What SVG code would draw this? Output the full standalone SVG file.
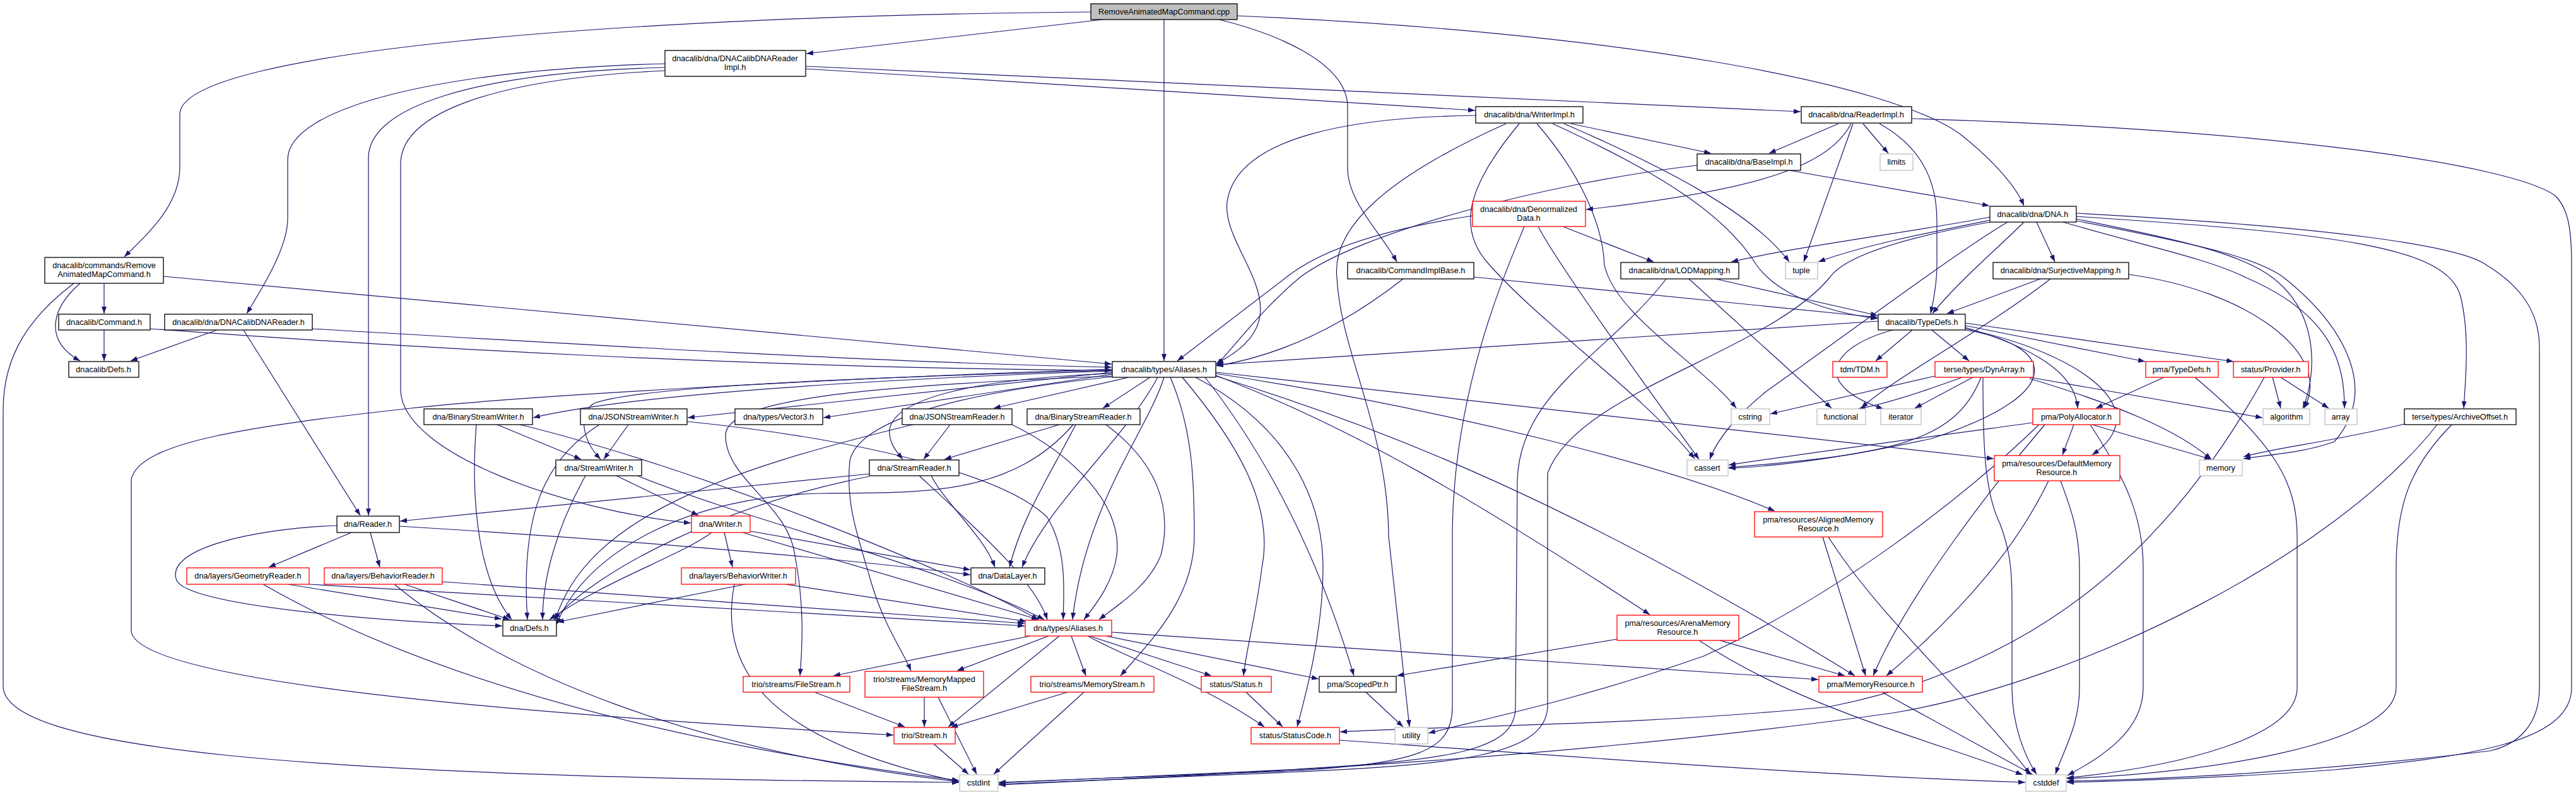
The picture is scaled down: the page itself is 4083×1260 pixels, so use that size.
<svg xmlns="http://www.w3.org/2000/svg" width="4083" height="1260" viewBox="0 0 4083 1260">
<defs>
<marker id="a" markerUnits="userSpaceOnUse" markerWidth="11" markerHeight="8" viewBox="0 0 11 8" refX="11" refY="4" orient="auto"><path d="M0,0 L11,4 L0,8 z" fill="#191970"/></marker>
<style>
.n rect{fill:#fff;stroke:#000;stroke-width:1.3}
.n.r rect{stroke:#ff0000}
.n.g rect{stroke:#bfbfbf}
.n.c rect{fill:#bfbfbf}
text{font-family:"Liberation Sans",Arial,sans-serif;font-size:12.7px;text-anchor:middle;fill:#000}
#edges path{fill:none;stroke:#191970;stroke-width:1.2;marker-end:url(#a)}
</style>
</defs>
<rect width="4083" height="1260" fill="#fff"/>
<g id="edges">
<path d="M1729,19 C1000,25 290,80 285,180 L285,265 C285,325 235,370 197,407"/>
<path d="M1748,31 L1278,85"/>
<path d="M1845,31 L1845,572"/>
<path d="M1932,31 C2010,50 2136,95 2136,170 L2136,267 C2136,320 2190,370 2214,415"/>
<path d="M1961,25 C2550,50 3000,130 3110,215 C3160,255 3195,295 3208,326"/>
<path d="M165,449 L165,497"/>
<path d="M127,449 C80,490 70,540 127,572"/>
<path d="M117,449 C50,500 5,560 5,650 L5,1087 C5,1185 450,1232 1520,1240"/>
<path d="M259,438 L1762,577"/>
<path d="M1277,109 L2338,175"/>
<path d="M1277,105 L2854,177"/>
<path d="M1054,101 C700,110 456,170 456,253 L456,347 C456,390 420,450 391,497"/>
<path d="M1054,107 C750,115 584,170 584,250 L584,817"/>
<path d="M1054,112 C780,125 635,180 635,260 L635,620 C640,720 900,810 1095,829"/>
<path d="M165,523 L165,572"/>
<path d="M238,521 C600,548 1200,584 1762,587"/>
<path d="M344,523 L207,572"/>
<path d="M386,523 L571,817"/>
<path d="M495,521 C900,545 1400,575 1762,582"/>
<path d="M2339,183 C2150,185 1960,215 1945,320 C1935,400 2080,500 1928,576"/>
<path d="M2387,196 C2200,280 2110,360 2119,440 C2125,560 2200,680 2201,850 L2234,1152"/>
<path d="M2408,196 C2330,290 2305,360 2361,420 C2450,520 2600,620 2686,727"/>
<path d="M2436,196 C2500,270 2540,350 2543,420 C2560,500 2700,580 2752,647"/>
<path d="M2461,196 C2600,260 2730,330 2784,420 C2820,470 2900,495 2976,505"/>
<path d="M2479,196 C2650,270 2780,340 2836,415"/>
<path d="M2490,196 L2712,243"/>
<path d="M2914,196 L2804,243"/>
<path d="M2953,196 L2993,243"/>
<path d="M2934,196 C2900,260 2800,300 2514,332"/>
<path d="M2937,196 L2859,415"/>
<path d="M2979,196 C3040,230 3070,280 3070,350 L3070,420 C3070,450 3065,475 3060,497"/>
<path d="M3030,188 C3600,205 3980,260 4050,310 C4070,330 4076,360 4076,420 L4076,1090 C4076,1180 3900,1200 3700,1220 C3500,1235 3350,1238 3276,1240"/>
<path d="M2836,270 L3153,326"/>
<path d="M2690,262 C2450,290 2150,370 2060,440 C2000,490 1960,545 1928,579"/>
<path d="M2477,359 L2621,415"/>
<path d="M2416,359 C2400,400 2305,600 2302,840 L2302,1123 C2300,1190 2250,1210 2042,1222 C1800,1232 1650,1238 1583,1240"/>
<path d="M2438,359 C2470,420 2600,600 2693,728"/>
<path d="M2334,342 C2180,365 2090,400 2042,437 L1866,572"/>
<path d="M2224,442 C2150,500 2050,560 1928,580"/>
<path d="M2336,439 L2976,503"/>
<path d="M2719,442 L2976,500"/>
<path d="M2677,442 L2903,647"/>
<path d="M2641,442 C2550,560 2410,620 2405,760 L2402,1123 C2400,1190 2300,1205 2042,1220 C1800,1232 1650,1238 1583,1241"/>
<path d="M3228,352 L3257,415"/>
<path d="M3208,352 C3170,390 3100,450 3063,497"/>
<path d="M3154,344 C3050,365 2850,390 2744,415"/>
<path d="M3154,349 C3050,370 2950,390 2882,415"/>
<path d="M3182,352 C3100,400 2900,550 2800,620 C2750,660 2720,700 2710,728"/>
<path d="M3154,352 C3000,380 2920,410 2900,440 C2800,560 2500,620 2453,750 L2453,1120 C2450,1200 2300,1212 2042,1224 C1800,1234 1650,1240 1583,1243"/>
<path d="M3291,343 C3700,370 3880,390 3900,470 C3915,530 3908,600 3905,647"/>
<path d="M3291,338 C3700,360 3900,390 3941,420 C3990,450 4025,490 4025,550 L4025,1090 C4025,1150 3990,1180 3947,1190 C3700,1220 3450,1235 3276,1238"/>
<path d="M3291,347 C3450,380 3550,400 3602,440 C3680,500 3670,600 3650,647"/>
<path d="M3270,352 C3400,390 3500,410 3560,440 C3700,500 3716,580 3716,647"/>
<path d="M3291,350 C3500,390 3580,410 3620,440 C3720,520 3770,620 3700,700 C3650,718 3600,720 3556,727"/>
<path d="M3234,442 L3086,497"/>
<path d="M3250,442 C3150,520 3000,600 2950,647"/>
<path d="M3374,435 C3560,460 3700,560 3652,647"/>
<path d="M2977,509 L1928,578"/>
<path d="M3031,523 L2973,572"/>
<path d="M3062,523 L3121,572"/>
<path d="M3115,516 L3400,573"/>
<path d="M3115,512 L3540,573"/>
<path d="M3115,519 C3220,550 3290,590 3293,647"/>
<path d="M3115,521 C3300,560 3420,650 3316,721"/>
<path d="M3115,523 C3250,545 3290,620 3062,695 C2900,730 2800,740 2740,742"/>
<path d="M3000,523 C2900,550 2870,610 2985,648"/>
<path d="M1763,585 C1300,600 800,630 651,647 C400,675 220,700 208,760 L208,1000 C215,1080 800,1130 1416,1165"/>
<path d="M1763,587 C1300,600 1000,615 940,640 C915,660 925,700 952,728"/>
<path d="M1763,588 C1400,600 1000,625 845,662"/>
<path d="M1763,590 L1090,662"/>
<path d="M1763,593 L1305,662"/>
<path d="M1789,598 L1575,647"/>
<path d="M1823,598 L1748,647"/>
<path d="M1763,592 C1550,600 1420,630 1410,680 C1408,700 1420,715 1431,728"/>
<path d="M1763,596 C1350,612 1150,635 1150,690 C1150,760 1250,800 1260,880 C1275,960 1272,1020 1268,1071"/>
<path d="M1763,597 C1500,625 1360,670 1347,730 C1340,800 1360,850 1380,920 C1400,990 1430,1030 1444,1063"/>
<path d="M1845,598 C1820,680 1720,800 1700,982"/>
<path d="M1835,598 C1780,700 1660,800 1620,899"/>
<path d="M1855,598 C1890,680 1893,760 1893,850 C1893,950 1820,1020 1776,1071"/>
<path d="M1874,598 C1960,700 2020,800 2000,900 C1990,980 1975,1030 1971,1071"/>
<path d="M1895,598 C2050,680 2097,800 2097,900 C2097,1000 2070,1100 2056,1152"/>
<path d="M1910,598 C1990,700 2080,850 2146,1071"/>
<path d="M1927,590 L3160,727"/>
<path d="M1927,592 C2300,650 2650,740 2813,810"/>
<path d="M1927,595 C2150,680 2350,800 2615,974"/>
<path d="M1927,596 C2200,680 2500,800 2940,1071"/>
<path d="M557,844 L426,899"/>
<path d="M587,844 L602,899"/>
<path d="M534,833 C400,838 260,870 280,920 C300,960 600,985 796,992"/>
<path d="M633,834 C900,850 1300,880 1538,911"/>
<path d="M456,926 L795,981"/>
<path d="M417,926 C650,1060 1000,1170 1520,1237"/>
<path d="M490,926 L1624,992"/>
<path d="M641,926 L808,982"/>
<path d="M625,926 C800,1070 1100,1190 1520,1239"/>
<path d="M701,922 L1624,988"/>
<path d="M1148,844 L1161,899"/>
<path d="M1190,842 L1538,903"/>
<path d="M1128,844 C1080,880 960,920 871,982"/>
<path d="M1177,844 L1646,982"/>
<path d="M1181,926 L883,986"/>
<path d="M1245,926 L1627,985"/>
<path d="M1164,926 C1140,1050 1200,1170 1520,1239"/>
<path d="M977,754 L1107,817"/>
<path d="M928,754 C880,840 860,920 860,982"/>
<path d="M1010,754 C1200,830 1500,900 1655,982"/>
<path d="M788,673 L921,728"/>
<path d="M755,673 C745,800 760,920 811,982"/>
<path d="M824,673 C1100,740 1500,900 1646,982"/>
<path d="M996,673 L957,728"/>
<path d="M950,673 C860,730 825,820 836,982"/>
<path d="M1089,668 C1400,700 1600,760 1660,820 C1690,870 1687,930 1685,982"/>
<path d="M1378,751 L634,826"/>
<path d="M1378,755 C1150,800 950,900 878,982"/>
<path d="M1476,754 C1500,800 1560,850 1577,899"/>
<path d="M1457,754 C1550,840 1640,920 1660,982"/>
<path d="M1506,673 L1464,728"/>
<path d="M1447,673 C1150,745 930,820 880,983"/>
<path d="M1604,673 C1700,720 1780,800 1770,880 C1765,920 1740,955 1718,982"/>
<path d="M1679,673 L1497,728"/>
<path d="M1705,673 C1660,760 1620,820 1600,899"/>
<path d="M1701,673 C1600,790 1450,780 1300,782 C1100,786 930,870 882,990"/>
<path d="M1753,673 C1830,730 1860,800 1840,880 C1820,930 1770,960 1742,982"/>
<path d="M1633,1008 L1321,1071"/>
<path d="M1662,1008 L1517,1063"/>
<path d="M1679,1008 L1503,1152"/>
<path d="M1698,1008 L1721,1071"/>
<path d="M1727,1008 L1920,1071"/>
<path d="M1724,1008 C1800,1050 1900,1080 2004,1152"/>
<path d="M1762,1002 L2882,1077"/>
<path d="M1753,1008 L2090,1076"/>
<path d="M1291,1097 L1434,1152"/>
<path d="M1465,1105 L1465,1152"/>
<path d="M1487,1105 L1548,1227"/>
<path d="M1692,1097 L1507,1153"/>
<path d="M1718,1097 L1575,1227"/>
<path d="M1975,1097 L2033,1152"/>
<path d="M1480,1179 L1535,1227"/>
<path d="M2123,1173 C2500,1200 2900,1230 3210,1240"/>
<path d="M2165,1097 L2224,1152"/>
<path d="M2563,1013 L2214,1071"/>
<path d="M2726,1015 L2924,1071"/>
<path d="M2693,1015 C2850,1120 3050,1170 3206,1228"/>
<path d="M2983,1097 L3222,1228"/>
<path d="M2889,851 L2957,1071"/>
<path d="M2898,851 C2980,980 3120,1100 3218,1227"/>
<path d="M3247,762 C3200,860 3120,960 2990,1071"/>
<path d="M3266,762 C3280,800 3296,840 3296,900 L3296,1090 C3296,1150 3270,1190 3258,1227"/>
<path d="M3287,673 L3269,721"/>
<path d="M3316,673 L3505,728"/>
<path d="M3241,673 C3150,780 3020,950 2969,1071"/>
<path d="M3313,673 C3370,760 3397,820 3397,900 L3397,1090 C3397,1160 3330,1200 3277,1229"/>
<path d="M3232,673 C3100,800 2900,950 2700,1040 C2500,1110 2350,1140 2264,1162"/>
<path d="M3222,670 C3000,700 2850,720 2740,737"/>
<path d="M3430,598 L3322,647"/>
<path d="M3479,598 C3600,700 3641,760 3641,850 L3641,1090 C3641,1170 3450,1215 3276,1233"/>
<path d="M3602,598 L3615,647"/>
<path d="M3615,598 L3691,647"/>
<path d="M3589,598 C3450,850 3250,1050 2900,1120 C2600,1150 2300,1150 2124,1160"/>
<path d="M3143,598 C3143,700 3145,780 3170,830 C3185,870 3189,900 3189,950 L3189,1090 C3189,1150 3210,1200 3228,1227"/>
<path d="M3217,598 L3586,662"/>
<path d="M3217,600 C3350,640 3450,680 3505,728"/>
<path d="M3067,596 L2806,656"/>
<path d="M3110,598 C3050,620 2990,640 2945,648"/>
<path d="M3127,598 L3035,647"/>
<path d="M3140,598 C3100,700 3000,720 2740,741"/>
<path d="M3811,672 C3700,700 3600,710 3556,724"/>
<path d="M3863,673 C3700,880 3300,1080 3000,1130 C2500,1200 2000,1225 1583,1244"/>
<path d="M3886,673 C3820,740 3798,800 3798,900 L3798,1090 C3798,1180 3500,1225 3276,1234"/>
</g>
<g id="cpp" class="n c"><rect x="1729" y="6" width="232" height="25"/><text x="1845" y="23">RemoveAnimatedMapCommand.cpp</text></g>
<g id="ramch" class="n"><rect x="71" y="408" width="188" height="41"/><text x="165" y="425">dnacalib/commands/Remove</text><text x="165" y="439">AnimatedMapCommand.h</text></g>
<g id="dcdrimpl" class="n"><rect x="1054" y="80" width="223" height="41"/><text x="1165" y="97">dnacalib/dna/DNACalibDNAReader</text><text x="1165" y="111">Impl.h</text></g>
<g id="writerimpl" class="n"><rect x="2339" y="169" width="170" height="26"/><text x="2424" y="186">dnacalib/dna/WriterImpl.h</text></g>
<g id="readerimpl" class="n"><rect x="2855" y="169" width="175" height="26"/><text x="2942" y="186">dnacalib/dna/ReaderImpl.h</text></g>
<g id="baseimpl" class="n"><rect x="2690" y="244" width="164" height="26"/><text x="2772" y="261">dnacalib/dna/BaseImpl.h</text></g>
<g id="limits" class="n g"><rect x="2980" y="244" width="52" height="26"/><text x="3006" y="261">limits</text></g>
<g id="denorm" class="n r"><rect x="2334" y="319" width="179" height="40"/><text x="2423" y="336">dnacalib/dna/Denormalized</text><text x="2423" y="350">Data.h</text></g>
<g id="dna" class="n"><rect x="3154" y="327" width="137" height="25"/><text x="3222" y="344">dnacalib/dna/DNA.h</text></g>
<g id="cib" class="n"><rect x="2136" y="416" width="200" height="26"/><text x="2236" y="433">dnacalib/CommandImplBase.h</text></g>
<g id="lod" class="n"><rect x="2569" y="416" width="187" height="26"/><text x="2662" y="433">dnacalib/dna/LODMapping.h</text></g>
<g id="tuple" class="n g"><rect x="2830" y="416" width="51" height="26"/><text x="2855" y="433">tuple</text></g>
<g id="surj" class="n"><rect x="3159" y="416" width="215" height="26"/><text x="3266" y="433">dnacalib/dna/SurjectiveMapping.h</text></g>
<g id="command" class="n"><rect x="93" y="498" width="145" height="25"/><text x="165" y="515">dnacalib/Command.h</text></g>
<g id="dcdr" class="n"><rect x="261" y="498" width="234" height="25"/><text x="378" y="515">dnacalib/dna/DNACalibDNAReader.h</text></g>
<g id="typedefs" class="n"><rect x="2977" y="498" width="138" height="25"/><text x="3046" y="515">dnacalib/TypeDefs.h</text></g>
<g id="defs" class="n"><rect x="109" y="573" width="111" height="25"/><text x="164" y="590">dnacalib/Defs.h</text></g>
<g id="aliases" class="n"><rect x="1763" y="573" width="164" height="25"/><text x="1845" y="590">dnacalib/types/Aliases.h</text></g>
<g id="tdm" class="n r"><rect x="2905" y="573" width="86" height="25"/><text x="2948" y="590">tdm/TDM.h</text></g>
<g id="dynarray" class="n r"><rect x="3067" y="573" width="156" height="25"/><text x="3145" y="590">terse/types/DynArray.h</text></g>
<g id="pmatypedefs" class="n r"><rect x="3401" y="573" width="115" height="25"/><text x="3458" y="590">pma/TypeDefs.h</text></g>
<g id="provider" class="n r"><rect x="3540" y="573" width="119" height="25"/><text x="3599" y="590">status/Provider.h</text></g>
<g id="bsw" class="n"><rect x="672" y="648" width="172" height="25"/><text x="758" y="665">dna/BinaryStreamWriter.h</text></g>
<g id="jsw" class="n"><rect x="920" y="648" width="169" height="25"/><text x="1004" y="665">dna/JSONStreamWriter.h</text></g>
<g id="vector3" class="n"><rect x="1165" y="648" width="139" height="25"/><text x="1234" y="665">dna/types/Vector3.h</text></g>
<g id="jsr" class="n"><rect x="1430" y="648" width="174" height="25"/><text x="1517" y="665">dna/JSONStreamReader.h</text></g>
<g id="bsr" class="n"><rect x="1628" y="648" width="179" height="25"/><text x="1717" y="665">dna/BinaryStreamReader.h</text></g>
<g id="cstring" class="n g"><rect x="2744" y="648" width="61" height="25"/><text x="2774" y="665">cstring</text></g>
<g id="functional" class="n g"><rect x="2880" y="648" width="77" height="25"/><text x="2918" y="665">functional</text></g>
<g id="iterator" class="n g"><rect x="2981" y="648" width="64" height="25"/><text x="3013" y="665">iterator</text></g>
<g id="polyalloc" class="n r"><rect x="3222" y="648" width="138" height="25"/><text x="3291" y="665">pma/PolyAllocator.h</text></g>
<g id="algorithm" class="n g"><rect x="3587" y="648" width="74" height="25"/><text x="3624" y="665">algorithm</text></g>
<g id="array" class="n g"><rect x="3685" y="648" width="51" height="25"/><text x="3710" y="665">array</text></g>
<g id="archiveoffset" class="n"><rect x="3811" y="648" width="177" height="25"/><text x="3899" y="665">terse/types/ArchiveOffset.h</text></g>
<g id="streamwriter" class="n"><rect x="881" y="729" width="136" height="25"/><text x="949" y="746">dna/StreamWriter.h</text></g>
<g id="streamreader" class="n"><rect x="1378" y="729" width="142" height="25"/><text x="1449" y="746">dna/StreamReader.h</text></g>
<g id="cassert" class="n g"><rect x="2674" y="729" width="65" height="25"/><text x="2706" y="746">cassert</text></g>
<g id="defaultmem" class="n r"><rect x="3161" y="722" width="199" height="40"/><text x="3260" y="739">pma/resources/DefaultMemory</text><text x="3260" y="753">Resource.h</text></g>
<g id="memory" class="n g"><rect x="3486" y="729" width="68" height="25"/><text x="3520" y="746">memory</text></g>
<g id="reader" class="n"><rect x="534" y="818" width="99" height="26"/><text x="583" y="835">dna/Reader.h</text></g>
<g id="writer" class="n r"><rect x="1096" y="818" width="93" height="26"/><text x="1142" y="835">dna/Writer.h</text></g>
<g id="alignedmem" class="n r"><rect x="2781" y="811" width="203" height="40"/><text x="2882" y="828">pma/resources/AlignedMemory</text><text x="2882" y="842">Resource.h</text></g>
<g id="georeader" class="n r"><rect x="296" y="900" width="194" height="26"/><text x="393" y="917">dna/layers/GeometryReader.h</text></g>
<g id="behreader" class="n r"><rect x="514" y="900" width="187" height="26"/><text x="607" y="917">dna/layers/BehaviorReader.h</text></g>
<g id="behwriter" class="n r"><rect x="1080" y="900" width="181" height="26"/><text x="1170" y="917">dna/layers/BehaviorWriter.h</text></g>
<g id="datalayer" class="n"><rect x="1539" y="900" width="117" height="26"/><text x="1597" y="917">dna/DataLayer.h</text></g>
<g id="dnadefs" class="n"><rect x="797" y="983" width="85" height="25"/><text x="839" y="1000">dna/Defs.h</text></g>
<g id="dnaaliases" class="n r"><rect x="1625" y="983" width="137" height="25"/><text x="1693" y="1000">dna/types/Aliases.h</text></g>
<g id="arenamem" class="n r"><rect x="2563" y="975" width="193" height="40"/><text x="2659" y="992">pma/resources/ArenaMemory</text><text x="2659" y="1006">Resource.h</text></g>
<g id="filestream" class="n r"><rect x="1178" y="1072" width="169" height="25"/><text x="1262" y="1089">trio/streams/FileStream.h</text></g>
<g id="mmfilestream" class="n r"><rect x="1371" y="1064" width="188" height="41"/><text x="1465" y="1081">trio/streams/MemoryMapped</text><text x="1465" y="1095">FileStream.h</text></g>
<g id="memstream" class="n r"><rect x="1634" y="1072" width="195" height="25"/><text x="1731" y="1089">trio/streams/MemoryStream.h</text></g>
<g id="status" class="n r"><rect x="1904" y="1072" width="111" height="25"/><text x="1959" y="1089">status/Status.h</text></g>
<g id="scopedptr" class="n"><rect x="2091" y="1072" width="122" height="25"/><text x="2152" y="1089">pma/ScopedPtr.h</text></g>
<g id="memresource" class="n r"><rect x="2883" y="1072" width="164" height="25"/><text x="2965" y="1089">pma/MemoryResource.h</text></g>
<g id="stream" class="n r"><rect x="1417" y="1153" width="97" height="26"/><text x="1465" y="1170">trio/Stream.h</text></g>
<g id="statuscode" class="n r"><rect x="1983" y="1153" width="140" height="26"/><text x="2053" y="1170">status/StatusCode.h</text></g>
<g id="utility" class="n g"><rect x="2211" y="1153" width="52" height="26"/><text x="2237" y="1170">utility</text></g>
<g id="cstdint" class="n g"><rect x="1521" y="1228" width="61" height="26"/><text x="1551" y="1245">cstdint</text></g>
<g id="cstddef" class="n g"><rect x="3211" y="1228" width="64" height="26"/><text x="3243" y="1245">cstddef</text></g>
</svg>
